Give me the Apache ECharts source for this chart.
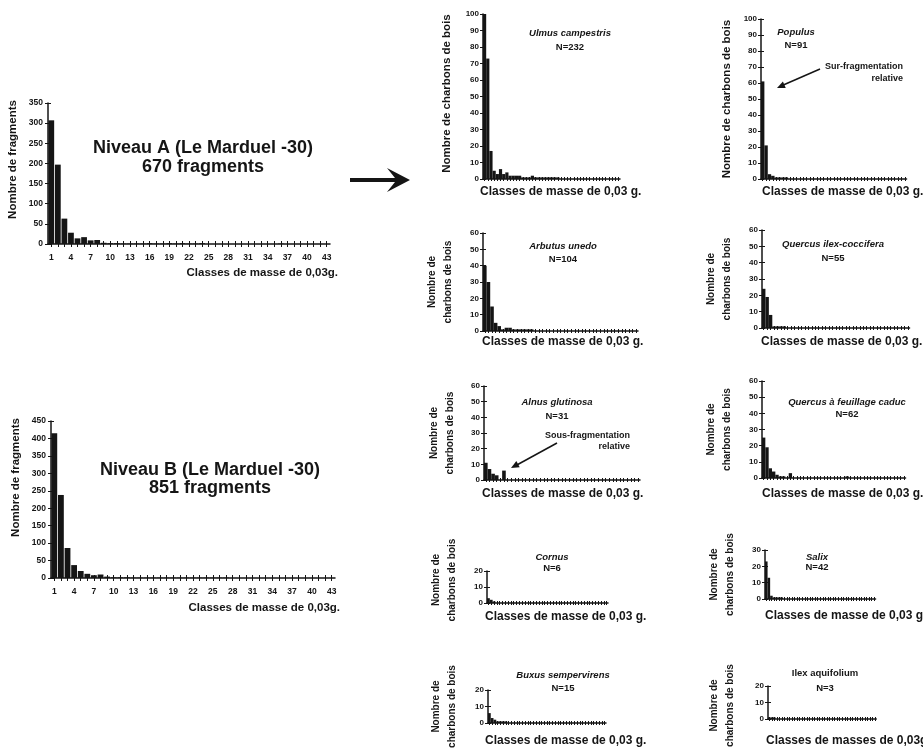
<!DOCTYPE html>
<html><head><meta charset="utf-8">
<script src="https://cdn.jsdelivr.net/npm/echarts@6/dist/echarts.min.js"></script>
<style>html,body{margin:0;padding:0;background:#fff}#c{width:923px;height:756px}</style>
</head><body><div id="c"></div>
<script>
// Mass classes (0,03 g each)
const classes = ['1','2','3','4','5','6','7','8','9','10','11','12','13','14','15','16','17','18','19','20','21','22','23','24','25','26','27','28','29','30','31','32','33','34','35','36','37','38','39','40','41','42','43'];

// Niveau A (Le Marduel -30), 670 fragments
const niveauA = [307,197,63,28,14,17,9,10,3,2,2,1,1,1,1,2,1,1,2,1,2,1,1,2,0,0,0,0,0,0,0,0,0,0,0,1,0,0,0,0,0,0,0];
// Niveau B (Le Marduel -30), 851 fragments
const niveauB = [415,238,86,37,20,12,8,10,4,2,2,2,1,1,1,1,1,1,1,1,1,1,1,1,1,1,1,0,0,0,0,0,0,0,0,0,0,0,0,0,0,0,0];
// Taxa
const ulmus        = [100,73,17,5,3,6,3,4,2,2,2,2,1,1,1,2,1,1,1,1,1,1,1,1,0,0,0,0,0,0,0,0,0,0,0,0,0,0,0,0,0,0,0];
const populus      = [61,21,3,2,1,1,1,1,0,0,0,0,0,0,0,0,0,0,0,0,0,0,0,0,0,0,0,0,0,0,0,0,0,0,0,0,0,0,0,0,0,0,0];
const arbutus      = [40,30,15,5,3,1,2,2,1,1,1,1,1,1,0,0,0,0,0,0,0,0,0,0,0,0,0,0,0,0,0,0,0,0,0,0,0,0,0,0,0,0,0];
const quercusIlex  = [24,19,8,1,1,1,1,0,0,0,0,0,0,0,0,0,0,0,0,0,0,0,0,0,0,0,0,0,0,0,0,0,0,0,0,0,0,0,0,0,0,0,0];
const alnus        = [11,7,4,3,0,6,0,0,0,0,0,0,0,0,0,0,0,0,0,0,0,0,0,0,0,0,0,0,0,0,0,0,0,0,0,0,0,0,0,0,0,0,0];
const quercusCaduc = [25,19,6,4,2,1,1,0,3,0,0,0,0,0,0,0,0,0,0,0,0,0,0,0,0,1,0,0,0,0,0,0,0,0,0,0,0,0,0,0,0,0,0];
const cornus       = [3,2,1,0,0,0,0,0,0,0,0,0,0,0,0,0,0,0,0,0,0,0,0,0,0,0,0,0,0,0,0,0,0,0,0,0,0,0,0,0,0,0,0];
const salix        = [23,13,2,1,1,1,1,0,0,0,0,0,0,0,0,0,0,0,0,0,0,0,0,0,0,0,0,0,0,0,0,0,0,0,0,0,0,0,0,0,0,0,0];
const buxus        = [6,3,2,1,1,1,1,0,0,0,0,0,0,0,0,0,0,0,0,0,0,0,0,0,0,0,0,0,0,0,0,0,0,0,0,0,0,0,0,0,0,0,0];
const ilex         = [1,1,1,0,0,0,0,0,0,0,0,0,0,0,0,0,0,0,0,0,0,0,0,0,0,0,0,0,0,0,0,0,0,0,0,0,0,0,0,0,0,0,0];

const mainTitles = [['Niveau A (Le Marduel -30)','670 fragments'],['Niveau B (Le Marduel -30)','851 fragments']];
const taxonTitles = [['Ulmus campestris','N=232'],['Populus','N=91'],['Arbutus unedo','N=104'],['Quercus ilex-coccifera','N=55'],['Alnus glutinosa','N=31'],['Quercus à feuillage caduc','N=62'],['Cornus','N=6'],['Salix','N=42'],['Buxus sempervirens','N=15'],['Ilex aquifolium','N=3']];

const FONT = '"Liberation Sans", Arial, sans-serif';
const INK = '#151515';

const panels = [
  {data:niveauA, left:48, top:103, width:282, height:141, max:350, step:50, main:true, yName:'Nombre de fragments', yGap:27, ySize:11.5, yShift:28, xName:'Classes de masse de 0,03g.', xPad:23, xGap:8},
  {data:niveauB, left:51, top:421, width:284, height:157, max:450, step:50, main:true, yName:'Nombre de fragments', yGap:27, ySize:11.5, yShift:44, xName:'Classes de masse de 0,03g.', xPad:24, xGap:5},
  {data:ulmus, left:483, top:14, width:137, height:165, max:100, step:10, yName:'Nombre de charbons de bois', yGap:28, ySize:11.5, yShift:6, xName:'Classes de masse de 0,03 g.', xPad:7, xGap:3},
  {data:populus, left:761, top:19, width:147, height:160, max:100, step:10, yName:'Nombre de charbons de bois', yGap:26, ySize:11.5, yShift:0, xName:'Classes de masse de 0,03 g.', xPad:7, xGap:-1},
  {data:arbutus, left:483, top:233, width:155, height:98, max:60, step:10, yName:'Nombre de\ncharbons de bois', yGap:27, ySize:10, yShift:0, xName:'Classes de masse de 0,03 g.', xPad:5, xGap:1},
  {data:quercusIlex, left:762, top:230, width:148, height:98, max:60, step:10, yName:'Nombre de\ncharbons de bois', yGap:27, ySize:10, yShift:0, xName:'Classes de masse de 0,03 g.', xPad:8, xGap:1},
  {data:alnus, left:484, top:386, width:156, height:94, max:60, step:10, yName:'Nombre de\ncharbons de bois', yGap:26, ySize:10, yShift:0, xName:'Classes de masse de 0,03 g.', xPad:8, xGap:2},
  {data:quercusCaduc, left:762, top:381, width:145, height:97, max:60, step:10, yName:'Nombre de\ncharbons de bois', yGap:27, ySize:10, yShift:0, xName:'Classes de masse de 0,03 g.', xPad:10, xGap:0},
  {data:cornus, left:487, top:571, width:121, height:32, max:20, step:10, yName:'Nombre de\ncharbons de bois', yGap:27, ySize:10, yShift:14, xName:'Classes de masse de 0,03 g.', xPad:8, xGap:2},
  {data:salix, left:765, top:550, width:115, height:49, max:30, step:10, yName:'Nombre de\ncharbons de bois', yGap:27, ySize:10, yShift:0, xName:'Classes de masse de 0,03 g.', xPad:11, xGap:0},
  {data:buxus, left:488, top:690, width:118, height:33, max:20, step:10, yName:'Nombre de\ncharbons de bois', yGap:28, ySize:10, yShift:0, xName:'Classes de masse de 0,03 g.', xPad:12, xGap:3},
  {data:ilex, left:768, top:686, width:117, height:33, max:20, step:10, yName:'Nombre de\ncharbons de bois', yGap:30, ySize:10, yShift:-6, xName:'Classes de masses de 0,03g.', xPad:16, xGap:2}
];

const mainTitlePos = [[203,148,167],[210,470,488]];
const taxonTitlePos = [[570,33,47],[796,32,45],[563,246,259],[833,244,258],[557,402,416],[847,402,414],[552,557,568],[817,557,567],[563,675,688],[825,673,688]];

const grid = [], xAxis = [], yAxis = [], series = [];
panels.forEach((p, i) => {
  grid.push({left:p.left, top:p.top, width:p.width, height:p.height, containLabel:false});
  const axisLine = {show:true, lineStyle:{color:INK, width:1.5}};
  const tickLen = p.main ? 3 : 2;
  xAxis.push({
    type:'category', gridIndex:i, data:classes, boundaryGap:true, position:'bottom',
    axisLine, axisTick:{show:true, interval:0, length:tickLen, lineStyle:{color:INK, width:1}, alignWithLabel:true},
    axisLabel: p.main ? {show:true, interval:2, fontSize:8.5, fontWeight:'bold', fontFamily:FONT, color:INK, margin:9} : {show:false},
    splitLine:{show:false},
    name:p.xName,
    nameLocation: p.main ? 'end' : 'start',
    nameGap: p.xGap,
    nameTextStyle: p.main
      ? {fontSize:11.5, fontWeight:'bold', fontFamily:FONT, color:INK, align:'right', verticalAlign:'top', padding:[p.xPad,0,0,0]}
      : {fontSize:12, fontWeight:'bold', fontFamily:FONT, color:INK, align:'left', verticalAlign:'top', padding:[p.xPad,0,0,0]}
  });
  // inner half of the crossed ticks
  xAxis.push({
    type:'category', gridIndex:i, data:classes, boundaryGap:true, position:'bottom',
    axisLine:{show:false}, axisTick:{show:true, inside:true, interval:0, length:tickLen, lineStyle:{color:INK, width:1}, alignWithLabel:true},
    axisLabel:{show:false}, splitLine:{show:false}
  });
  yAxis.push({
    type:'value', gridIndex:i, min:0, max:p.max, interval:p.step, position:'left',
    axisLine, axisTick:{show:true, length:3, lineStyle:{color:INK, width:1}},
    axisLabel:{fontSize:p.main?8.5:8, fontWeight:'bold', fontFamily:FONT, color:INK, margin:p.main?5:4},
    splitLine:{show:false},
    name:p.yName, nameLocation:'middle', nameGap:p.yGap, nameRotate:90,
    nameTextStyle:{fontSize:p.ySize, fontWeight:'bold', fontFamily:FONT, color:INK, lineHeight:16, padding:[0,0,0,p.yShift]}
  });
  yAxis.push({
    type:'value', gridIndex:i, min:0, max:p.max, interval:p.step, position:'left',
    axisLine:{show:false}, axisTick:{show:true, inside:true, length:3, lineStyle:{color:INK, width:1}},
    axisLabel:{show:false}, splitLine:{show:false}
  });
  series.push({
    type:'bar', xAxisIndex:2*i, yAxisIndex:2*i, data:p.data,
    barCategoryGap: p.main ? '12%' : '0%',
    itemStyle:{color:INK}, silent:true, animation:false
  });
});

function arrowHead(x1, y1, x2, y2, len, half) {
  const dx = x2 - x1, dy = y2 - y1, L = Math.hypot(dx, dy);
  const ux = dx / L, uy = dy / L, bx = x2 - ux * len, by = y2 - uy * len;
  return [[x2, y2], [bx - uy * half, by + ux * half], [bx + uy * half, by - ux * half]];
}

const graphic = [];
mainTitles.forEach((t, i) => {
  const [cx, y1, y2] = mainTitlePos[i];
  graphic.push({type:'text', x:cx, y:y1, style:{text:t[0], font:'bold 18px ' + FONT, fill:INK, textAlign:'center', textVerticalAlign:'middle'}});
  graphic.push({type:'text', x:cx, y:y2, style:{text:t[1], font:'bold 18px ' + FONT, fill:INK, textAlign:'center', textVerticalAlign:'middle'}});
});
taxonTitles.forEach((t, i) => {
  const [cx, y1, y2] = taxonTitlePos[i];
  const style = i === 9 ? 'bold 9.5px ' : 'italic bold 9.5px ';
  graphic.push({type:'text', x:cx, y:y1, style:{text:t[0], font:style + FONT, fill:INK, textAlign:'center', textVerticalAlign:'middle'}});
  graphic.push({type:'text', x:cx, y:y2, style:{text:t[1], font:'bold 9.5px ' + FONT, fill:INK, textAlign:'center', textVerticalAlign:'middle'}});
});
// big arrow between the two columns
graphic.push({type:'polygon', shape:{points:[[350,178],[395,178],[387,168],[410,180],[387,192],[395,182],[350,182]]}, style:{fill:INK}});
// annotations
graphic.push({type:'text', x:903, y:67, style:{text:'Sur-fragmentation', font:'bold 9px ' + FONT, fill:INK, textAlign:'right', textVerticalAlign:'middle'}});
graphic.push({type:'text', x:903, y:79, style:{text:'relative', font:'bold 9px ' + FONT, fill:INK, textAlign:'right', textVerticalAlign:'middle'}});
graphic.push({type:'line', shape:{x1:820, y1:69, x2:781, y2:86}, style:{stroke:INK, lineWidth:1.5}});
graphic.push({type:'polygon', shape:{points:arrowHead(820,69,777,88,8,3.5)}, style:{fill:INK}});
graphic.push({type:'text', x:630, y:436, style:{text:'Sous-fragmentation', font:'bold 9px ' + FONT, fill:INK, textAlign:'right', textVerticalAlign:'middle'}});
graphic.push({type:'text', x:630, y:447, style:{text:'relative', font:'bold 9px ' + FONT, fill:INK, textAlign:'right', textVerticalAlign:'middle'}});
graphic.push({type:'line', shape:{x1:557, y1:443, x2:515, y2:466}, style:{stroke:INK, lineWidth:1.5}});
graphic.push({type:'polygon', shape:{points:arrowHead(557,443,511,468,8,3.5)}, style:{fill:INK}});

const chart = echarts.init(document.getElementById('c'), null, {renderer:'canvas'});
chart.setOption({backgroundColor:'#fff', animation:false, grid, xAxis, yAxis, series, graphic});
</script>
</body></html>
